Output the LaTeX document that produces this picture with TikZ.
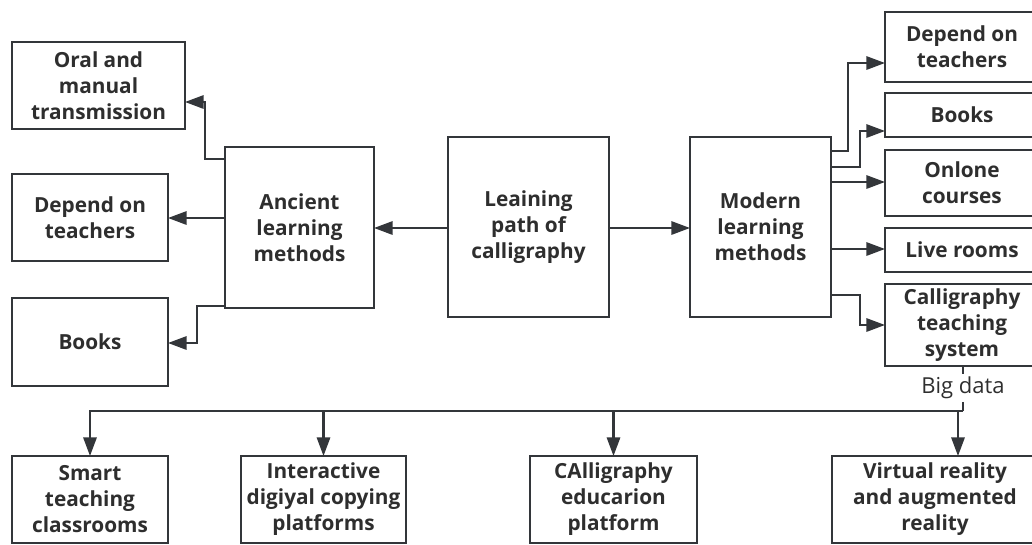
\documentclass[tikz,border=0pt]{standalone}
\usepackage{fontspec}
\setmainfont{Open Sans}
\usetikzlibrary{arrows.meta}
\definecolor{ln}{HTML}{33363A}
\definecolor{tx}{HTML}{2E2E2E}
\newcommand{\bx}[6]{\node[box, minimum width={(#4-#2)*0.75pt}, minimum height={(#5-#3)*0.75pt}] (#1) at ({(#2+#4)/2},{(#3+#5)/2}) {#6};}
\begin{document}
\begin{tikzpicture}[x=0.75pt,y=-0.75pt,
  box/.style={draw=ln, line width=1.6pt, inner sep=0pt, outer sep=0pt, align=center, text=tx,
    font=\bfseries\fontsize{15.6}{19.5}\selectfont},
  conn/.style={draw=ln, line width=1.6pt},
  arr/.style={conn, -{Triangle[length=14pt,width=10pt]}}]
\useasboundingbox (0,0) rectangle (1032,544);
% left
\bx{oral}{12}{42}{185}{129}{Oral and\\manual\\transmission}
\bx{depl}{12}{174}{168}{261}{Depend on\\teachers}
\bx{bookl}{12}{298}{168}{386}{Books}
\bx{anc}{225}{147}{374}{308}{Ancient\\learning\\methods}
\bx{ctr}{448}{137}{609}{317}{Leaining\\path of\\calligraphy}
\bx{mod}{690}{137}{831}{317}{Modern\\learning\\methods}
% right
\bx{depr}{885}{12}{1039}{82}{Depend on\\teachers}
\bx{bookr}{885}{93}{1039}{137}{Books}
\bx{onl}{885}{150}{1039}{216}{Onlone\\courses}
\bx{live}{885}{228}{1039}{272}{Live rooms}
\bx{cts}{885}{284}{1039}{366}{Calligraphy\\teaching\\system}
% bottom
\bx{smart}{12}{456}{168}{543}{Smart\\teaching\\classrooms}
\bx{inter}{241}{456}{406}{543}{Interactive\\digiyal copying\\platforms}
\bx{calp}{530}{456}{697}{543}{CAlligraphy\\educarion\\platform}
\bx{vr}{832}{456}{1038}{543}{Virtual reality\\and augmented\\reality}
% connectors left
\draw[arr] (anc.west |- 0,159) -| (205,102) -- (oral.east |- 0,102);
\draw[arr] (anc.west |- 0,218) -- (depl.east |- 0,218);
\draw[arr] (anc.west |- 0,306) -| (197,343) -- (bookl.east |- 0,343);
\draw[arr] (ctr.west |- 0,228) -- (anc.east |- 0,228);
\draw[arr] (ctr.east |- 0,228) -- (mod.west |- 0,228);
% connectors right
\draw[arr] (mod.east |- 0,151) -| (848,63) -- (depr.west |- 0,63);
\draw[arr] (mod.east |- 0,167) -| (860,131) -- (bookr.west |- 0,131);
\draw[arr] (mod.east |- 0,182) -- (onl.west |- 0,182);
\draw[arr] (mod.east |- 0,249) -- (live.west |- 0,249);
\draw[arr] (mod.east |- 0,295) -| (860,325) -- (cts.west |- 0,325);
% big data
\node[text=tx, font=\fontsize{16.5}{19}\selectfont, inner sep=2pt] (bd) at (963,388) {Big data};
\coordinate (hub) at (963,411);
\draw[conn] (cts.south -| hub) -- (bd.north -| hub);
\draw[conn] (bd.south -| hub) -- (hub);
\draw[arr] (hub) -| (smart.north);
\draw[arr] (hub -| inter.north) -- (inter.north);
\draw[arr] (hub -| calp.north) -- (calp.north);
\draw[arr] (958,411) -- (vr.north -| 958,0);
\end{tikzpicture}
\end{document}
